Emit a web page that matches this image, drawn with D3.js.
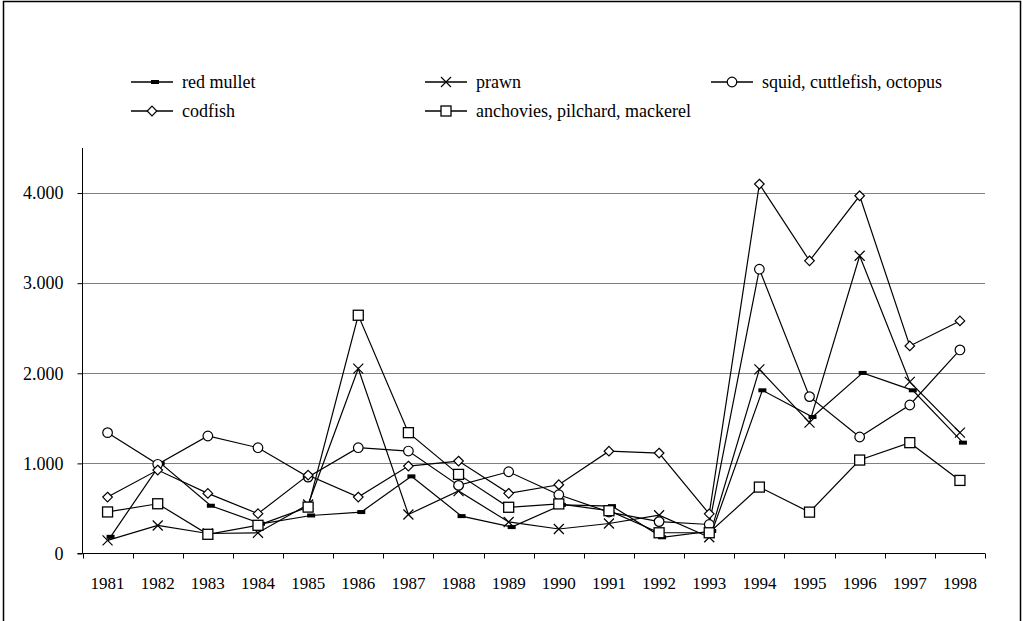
<!DOCTYPE html>
<html>
<head>
<meta charset="utf-8">
<script src="https://cdn.jsdelivr.net/npm/d3@7"></script>
<style>
  html, body { margin: 0; padding: 0; background: #fff; }
  svg { display: block; }
</style>
</head>
<body>
<svg id="chart" width="1023" height="621"></svg>
<script>
const years = ["1981","1982","1983","1984","1985","1986","1987","1988","1989","1990","1991","1992","1993","1994","1995","1996","1997","1998"];
const redMullet = [185, 1000, 530, 330, 422, 460, 856, 415, 293, 540, 526, 180, 250, 1811, 1515, 2004, 1811, 1230];
const prawn     = [145, 311, 222, 230, 544, 2052, 433, 693, 350, 272, 333, 425, 180, 2044, 1452, 3304, 1904, 1341];
const squid     = [1341, 990, 1304, 1174, 848, 1174, 1137, 756, 907, 652, 460, 354, 322, 3155, 1741, 1293, 1648, 2259];
const codfish   = [626, 926, 667, 442, 870, 626, 970, 1026, 668, 763, 1135, 1115, 440, 4100, 3248, 3970, 2303, 2581];
const anchovies = [461, 552, 213, 313, 515, 2644, 1341, 878, 513, 550, 475, 230, 230, 737, 459, 1037, 1230, 811];
const yTicks = [0, 1000, 2000, 3000, 4000];
const seriesNames = ["red mullet", "prawn", "squid, cuttlefish, octopus", "codfish", "anchovies, pilchard, mackerel"];

const FONT = "'Liberation Serif', Tinos, 'Times New Roman', Times, serif";

const series = [
  {name: seriesNames[0], values: redMullet, marker: "bar", dx: 3},
  {name: seriesNames[1], values: prawn, marker: "x", dx: 0},
  {name: seriesNames[2], values: squid, marker: "circle", dx: 0},
  {name: seriesNames[3], values: codfish, marker: "diamond", dx: 0},
  {name: seriesNames[4], values: anchovies, marker: "square", dx: 0}
];

const svg = d3.select("#chart");
const pLeft = 82.5, pRight = 985, pTop = 148, pBottom = 553.5;

// outer frame
svg.append("rect").attr("x", 3.5).attr("y", 1.5).attr("width", 1017).attr("height", 700)
  .attr("fill", "none").attr("stroke", "#000").attr("stroke-width", 1.5);

const x = d3.scaleBand().domain(years).range([pLeft, pRight]).padding(0);
const y = d3.scaleLinear().domain([0, 4500]).range([pBottom, pTop]);
const loc = d3.formatLocale({decimal: ",", thousands: ".", grouping: [3], currency: ["", ""]});
const fmt = loc.format(",");

// gridlines
svg.append("g").selectAll("line").data(yTicks.filter(d => d > 0)).join("line")
  .attr("x1", pLeft).attr("x2", pRight)
  .attr("y1", d => Math.round(y(d)) + 0.5).attr("y2", d => Math.round(y(d)) + 0.5)
  .attr("stroke", "#808080").attr("stroke-width", 1.2);

// y axis
const yAxis = d3.axisLeft(y).tickValues(yTicks).tickFormat(fmt).tickSize(5).tickPadding(14);
const gy = svg.append("g").attr("transform", `translate(${pLeft},0)`).call(yAxis);
gy.attr("font-family", FONT).attr("font-size", 18);
gy.select(".domain").attr("stroke", "#000").attr("d", `M-5,${y(0)}H0V${pTop}`);
gy.selectAll(".tick line").attr("stroke", "#000");
gy.selectAll("text").attr("fill", "#000");

// x axis
const gx = svg.append("g").attr("transform", `translate(0,${pBottom})`);
gx.append("line").attr("x1", pLeft).attr("x2", pRight).attr("y1", 0).attr("y2", 0).attr("stroke", "#000");
const boundaries = years.map(d => x(d)).concat([pRight]);
gx.selectAll("line.tk").data(boundaries).join("line").attr("class", "tk")
  .attr("x1", d => Math.round(d) + 0.5).attr("x2", d => Math.round(d) + 0.5)
  .attr("y1", 0).attr("y2", 5).attr("stroke", "#000");
gx.selectAll("text").data(years).join("text")
  .attr("x", d => x(d) + x.bandwidth() / 2).attr("y", 35)
  .attr("text-anchor", "middle").attr("font-family", FONT).attr("font-size", 17).attr("fill", "#000").text(d => d);

function drawMarker(g, type, cx, cy) {
  if (type === "bar") {
    g.append("rect").attr("x", cx - 4).attr("y", cy - 2).attr("width", 8).attr("height", 4).attr("fill", "#000");
  } else if (type === "x") {
    g.append("path").attr("d", `M${cx-5},${cy-5}L${cx+5},${cy+5}M${cx-5},${cy+5}L${cx+5},${cy-5}`)
      .attr("stroke", "#000").attr("stroke-width", 1.2).attr("fill", "none");
  } else if (type === "circle") {
    g.append("circle").attr("cx", cx).attr("cy", cy).attr("r", 4.8).attr("fill", "#fff").attr("stroke", "#000").attr("stroke-width", 1.2);
  } else if (type === "diamond") {
    g.append("path").attr("d", `M${cx},${cy-4.8}L${cx+4.8},${cy}L${cx},${cy+4.8}L${cx-4.8},${cy}Z`)
      .attr("fill", "#fff").attr("stroke", "#000").attr("stroke-width", 1.2);
  } else if (type === "square") {
    g.append("rect").attr("x", cx - 5).attr("y", cy - 5).attr("width", 10).attr("height", 10)
      .attr("fill", "#fff").attr("stroke", "#000").attr("stroke-width", 1.3);
  }
}

const line = d3.line();
series.forEach(s => {
  const g = svg.append("g");
  const pts = s.values.map((v, i) => [x(years[i]) + x.bandwidth() / 2 + s.dx, y(v)]);
  g.append("path").attr("d", line(pts)).attr("fill", "none").attr("stroke", "#000").attr("stroke-width", 1.2);
  pts.forEach(p => drawMarker(g, s.marker, p[0], p[1]));
});

// legend
const legendPos = [[131, 82], [425, 82], [711, 82], [131, 111], [425, 111]];
series.forEach((s, i) => {
  const [lx, ly] = legendPos[i];
  const g = svg.append("g");
  g.append("line").attr("x1", lx).attr("x2", lx + 42).attr("y1", ly).attr("y2", ly).attr("stroke", "#000").attr("stroke-width", 1.3);
  drawMarker(g, s.marker, lx + 21 + s.dx, ly);
  g.append("text").attr("x", lx + 51).attr("y", ly).attr("dy", "0.33em")
    .attr("font-family", FONT).attr("font-size", 18).attr("fill", "#000").text(s.name);
});
</script>
</body>
</html>
